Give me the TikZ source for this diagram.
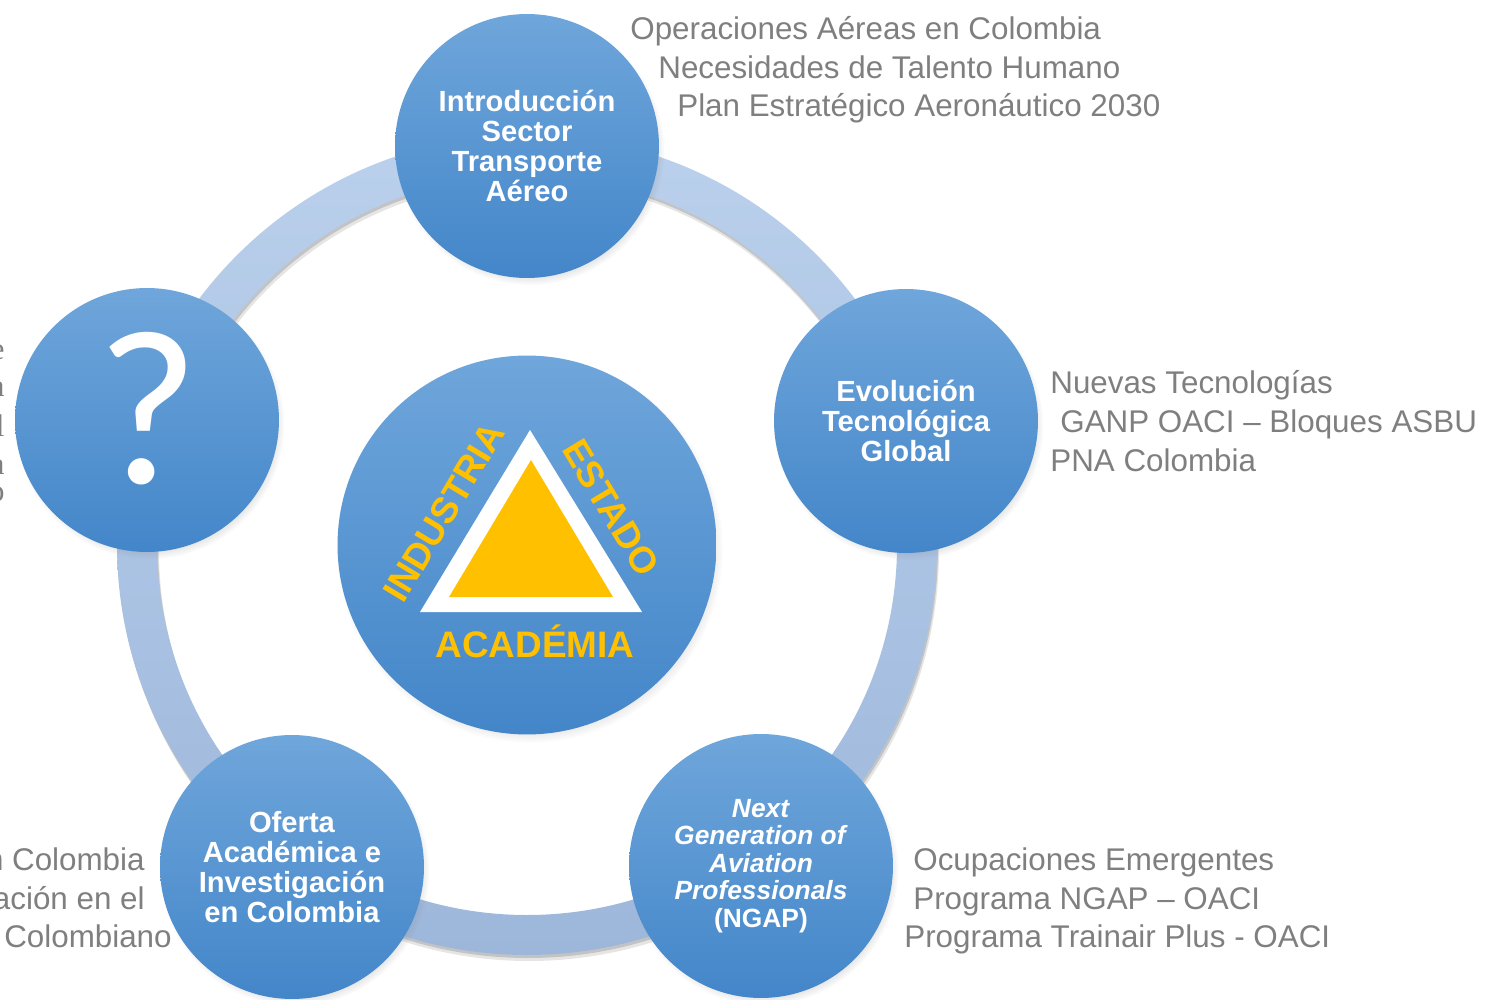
\documentclass[tikz,border=0pt]{standalone}
\usepackage{fontspec}
\setmainfont{Liberation Sans}
\newfontfamily\cutfont{Liberation Serif}
\newfontfamily\qmfont{Carlito}
\usepackage{tikz}
\usetikzlibrary{shadows,fadings}
\definecolor{ballt}{HTML}{6FA6DB}
\definecolor{ballb}{HTML}{4386C9}
\definecolor{ringt}{HTML}{BAD0EC}
\definecolor{ringb}{HTML}{9DB7DB}
\definecolor{txtc}{HTML}{7F7F7F}
\definecolor{oro}{HTML}{FFC000}
\tikzset{
  ball/.style={circle,inner sep=0pt,minimum size=5.28cm,top color=ballt,bottom color=ballb,
    circular drop shadow={shadow xshift=1.5pt,shadow yshift=-2.5pt,shadow scale=1.02,opacity=.45},
    text=white,align=center,font=\fontsize{16.6}{17}\selectfont\bfseries},
  core/.style={ball,minimum size=7.58cm},
  info/.style={anchor=base west,inner sep=0pt,text=txtc,font=\fontsize{17.85}{21}\selectfont},
  infol/.style={info,anchor=base east},
  lbl/.style={text=oro,inner sep=0pt,font=\fontsize{21}{22}\selectfont\bfseries},
}
\begin{document}
\begin{tikzpicture}[x=0.02cm,y=-0.02cm]
  \useasboundingbox (0,0) rectangle (1488,1000);
  \clip (0,0) rectangle (1488,1000);
  \coordinate (c) at (527,545);
  % anillo
  \fill[black,opacity=.10,even odd rule] ([shift={(2,6)}]c) circle[radius=410] ([shift={(2,6)}]c) circle[radius=370];
  \fill[black,opacity=.15,even odd rule] ([shift={(1,3)}]c) circle[radius=410] ([shift={(1,3)}]c) circle[radius=370];
  \shade[top color=ringt,bottom color=ringb,even odd rule] (c) circle[radius=410] (c) circle[radius=370];
  % circulos
  \node[ball] (intro) at (527,146) {Introducción\\Sector\\Transporte\\Aéreo};
  \node[ball] (evol) at (906,421) {Evolución\\Tecnológica\\Global};
  \node[ball,font=\fontsize{15}{15.6}\selectfont\bfseries] (ngap) at (761,866)
    {\textit{Next}\\\textit{Generation of}\\\textit{Aviation}\\\textit{Professionals}\\(NGAP)};
  \node[ball] (oferta) at (292,867) {Oferta\\Académica e\\Investigación\\en Colombia};
  \node[ball] (quest) at (147,420) {};
  \node[text=white,inner sep=0pt,anchor=base,font=\qmfont\fontsize{126}{126}\selectfont] (qm) at (148,483) {?};
  % centro
  \node[core] (core) at (c) {};
  \fill[white] (420,612) -- (530,430) -- (642,612) -- cycle;
  \fill[oro] (449,597) -- (531,460) -- (613,597) -- cycle;
  \node[lbl,rotate=59] (ind) at (444,512) {INDUSTRIA};
  \node[lbl,rotate=-59] (est) at (611,508) {ESTADO};
  \node[lbl,anchor=base] (aca) at (535,657) {ACADÉMIA};
  % textos
  \foreach \n/\x/\y/\t in {a1/630/40/{Operaciones Aéreas en Colombia},
      a2/658/79/{Necesidades de Talento Humano},
      a3/677/117/{Plan Estratégico Aeronáutico 2030},
      b1/1050/393/{Nuevas Tecnologías},
      b2/1060/432/{GANP OACI – Bloques ASBU},
      b3/1050/471/{PNA Colombia},
      c1/913/870/{Ocupaciones Emergentes},
      c2/913/909/{Programa NGAP – OACI},
      c3/904/947/{Programa Trainair Plus - OACI}} {
    \node[info] (\n) at (\x,\y) {\t};
  }
  \foreach \n/\x/\y/\t in {d1/145/870/{n Colombia},
      d2/145/909/{ación en el},
      d3/172/947/{Colombiano}} {
    \node[infol] (\n) at (\x,\y) {\t};
  }
  \foreach \n/\y/\t in {e1/359/e,e2/397/a,e3/436/l,e4/474/a,e5/501/o} {
    \node[infol,font=\cutfont\fontsize{17.85}{21}\selectfont] (\n) at (5,\y) {\t};
  }
\end{tikzpicture}
\end{document}
